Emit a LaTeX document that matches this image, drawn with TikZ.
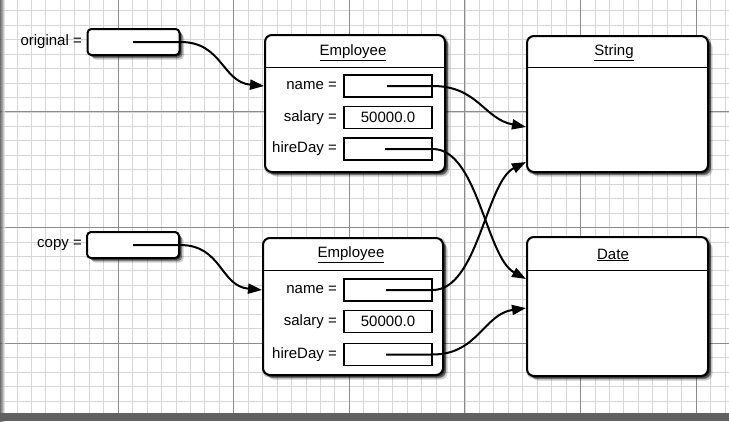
\documentclass[tikz,border=0pt]{standalone}
\usepackage{fontspec}
\setmainfont{Liberation Sans}
\usetikzlibrary{arrows.meta,shadows}
\begin{document}
\begin{tikzpicture}[x=1pt,y=-1pt,
  txt/.style={font=\fontsize{15}{17}\selectfont, inner sep=0pt},
  softshadow/.style={
    general shadow={shadow xshift=1pt, shadow yshift=-1pt, shadow scale=1.02, fill=black, opacity=0.25},
    general shadow={shadow xshift=1.5pt, shadow yshift=-1.5pt, fill=black, opacity=0.45},
    general shadow={shadow xshift=3pt, shadow yshift=-3pt, fill=black, opacity=0.4},
    general shadow={shadow xshift=4.5pt, shadow yshift=-4.5pt, fill=black, opacity=0.2}},
  objbox/.style={draw, line width=2pt, rounded corners=7pt, fill=white, softshadow, inner sep=0pt},
  refbox/.style={draw, line width=2pt, rounded corners=4pt, fill=white, softshadow, inner sep=0pt,
    minimum width=92pt, minimum height=26pt},
  field/.style={draw, line width=1.5pt, fill=white, minimum width=88pt, minimum height=22pt,
    inner sep=0pt, font=\fontsize{15}{17}\selectfont},
  conn/.style={line width=2pt, -{Triangle[length=14pt,width=10pt]}},
  divider/.style={line width=1pt},
  fineline/.style={draw=black!16, line width=0.6pt},
  thickline/.style={draw=black!45, line width=0.9pt}
]
\useasboundingbox (0,0) rectangle (729,421);
\fill[white] (0,0) rectangle (729,421);
% grid
\foreach \k in {-8,...,42} \draw[fineline] ({118+14.45*\k},0) -- ({118+14.45*\k},421);
\foreach \k in {-24,...,5} \draw[fineline] (0,{343+14.45*\k}) -- (729,{343+14.45*\k});
\foreach \k in {0,8,...,40} \draw[thickline] ({118+14.45*\k},0) -- ({118+14.45*\k},421);
\foreach \k in {-16,-8,0} \draw[thickline] (0,{343+14.45*\k}) -- (729,{343+14.45*\k});
% page edges
\shade[left color=black!70, right color=white, opacity=0.8] (0,0) rectangle (5,421);
\fill[black!62] (0,413) rectangle (729,421);

% reference variables
\node[refbox] (orig) at (133.5,42) {};
\node[txt, anchor=east] (origlbl) at (82,42) {original =};
\coordinate (origp) at (133,42);
\node[refbox] (copy) at (133,245) {};
\node[txt, anchor=east] (copylbl) at (82,245) {copy =};
\coordinate (copyp) at (133,245);

% Employee 1
\node[objbox, minimum width=180pt, minimum height=137pt] (e1) at (355,103.5) {};
\draw[divider] ([yshift=-33pt]e1.north west) -- ([yshift=-33pt]e1.north east);
\node[txt] (e1t) at (353,53) {\underline{Employee}};
\node[field] (n1) at (388,86) {};
\node[field] (s1) at (388,117.5) {50000.0};
\node[field] (h1) at (388,149) {};
\node[txt, anchor=east] (n1l) at (337,86) {name =};
\node[txt, anchor=east] (s1l) at (337,117.5) {salary =};
\node[txt, anchor=east] (h1l) at (337,149) {hireDay =};
\coordinate (n1p) at (387,86);
\coordinate (h1p) at (385,149);

% Employee 2
\node[objbox, minimum width=180pt, minimum height=137pt] (e2) at (353,306.5) {};
\draw[divider] ([yshift=-33pt]e2.north west) -- ([yshift=-33pt]e2.north east);
\node[txt] (e2t) at (351,255) {\underline{Employee}};
\node[field] (n2) at (388,290) {};
\node[field] (s2) at (388,321.5) {50000.0};
\node[field] (h2) at (388,354.5) {};
\node[txt, anchor=east] (n2l) at (337,290) {name =};
\node[txt, anchor=east] (s2l) at (337,321.5) {salary =};
\node[txt, anchor=east] (h2l) at (337,354.5) {hireDay =};
\coordinate (n2p) at (386,290);
\coordinate (h2p) at (386,354.5);

% String
\node[objbox, minimum width=181pt, minimum height=136pt] (str) at (617.5,104) {};
\draw[divider] ([yshift=-32pt]str.north west) -- ([yshift=-32pt]str.north east);
\node[txt] (strt) at (614,53) {\underline{String}};

% Date
\node[objbox, minimum width=181pt, minimum height=139pt] (date) at (617.5,306.5) {};
\draw[divider] ([yshift=-34pt]date.north west) -- ([yshift=-34pt]date.north east);
\node[txt] (datet) at (613,255) {\underline{Date}};

% connectors
\draw[conn] (origp) -- (orig.east) .. controls +(42,0) and +(-42,-4) .. (e1.west |- n1);
\draw[conn] (copyp) -- (copy.east) .. controls +(42,0) and +(-42,-4) .. (e2.west |- n2);
\draw[conn] (n1p) -- (n1.east) .. controls +(45,0) and +(-42,-8) .. ([yshift=-23pt]str.west);
\draw[conn] (h1p) -- (h1.east) .. controls +(45,0) and +(-40,-22) .. ([yshift=27.5pt]date.west);
\draw[conn] (n2p) -- (n2.east) .. controls +(45,0) and +(-40,20) .. ([yshift=-58pt]str.west);
\draw[conn] (h2p) -- (h2.east) .. controls +(45,0) and +(-42,6) .. ([yshift=-1.5pt]date.west);
\end{tikzpicture}
\end{document}
